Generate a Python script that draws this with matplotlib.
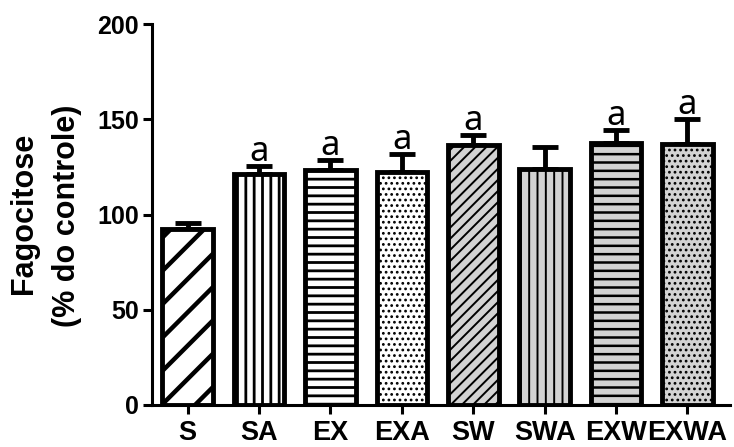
import numpy as np
import matplotlib
matplotlib.use("Agg")
import matplotlib.pyplot as plt

plt.rcParams['font.family'] = ['Liberation Sans', 'DejaVu Sans']
plt.rcParams['font.weight'] = 'bold'

# grupos e valores (% do controle)
grupos = ['S', 'SA', 'EX', 'EXA', 'SW', 'SWA', 'EXW', 'EXWA']
medias = [92.4, 121.3, 123.4, 122.3, 136.5, 124.0, 137.5, 137.0]
erros = [3.0, 4.2, 5.2, 9.5, 5.2, 11.4, 6.9, 13.1]
letras = ['', 'a', 'a', 'a', 'a', '', 'a', 'a']

cores = ['white'] * 4 + ['#d3d3d3'] * 4
hachuras = ['/', '||', '--', '...', '///', '||', '--', '...']
larg_hachura = [3.2, 2.0, 2.0, 1.2, 1.4, 1.4, 1.8, 1.2]

fig = plt.figure(figsize=(7.34, 4.47), dpi=100)
ax = fig.add_axes([0.207, 0.094, 0.788, 0.852])

x = np.arange(len(grupos))
for i in range(len(grupos)):
    plt.rcParams['hatch.linewidth'] = larg_hachura[i]
    b = ax.bar(x[i], medias[i], width=0.71, color=cores[i], edgecolor='black',
               linewidth=3.5, hatch=hachuras[i], zorder=2)
    if hasattr(b[0], 'set_hatch_linewidth'):
        b[0].set_hatch_linewidth(larg_hachura[i])

# barras de erro só para cima
ax.errorbar(x, medias, yerr=[np.zeros(len(erros)), erros], fmt='none',
            ecolor='black', elinewidth=3.5, capsize=9.5, capthick=3.5, zorder=1)

for i, l in enumerate(letras):
    if l:
        ax.text(x[i], medias[i] + erros[i] + 2.8, l, ha='center', va='baseline',
                fontsize=25, fontweight='normal', family=['Noto Sans', 'DejaVu Sans'])

ax.set_xlim(-0.5, 7.6)
ax.set_ylim(0, 200)
ax.set_yticks([0, 50, 100, 150, 200])
ax.set_xticks(x)
ax.set_xticklabels(grupos, fontsize=19.5, fontweight='bold')
for t in ax.get_yticklabels():
    t.set_fontsize(18)
    t.set_fontweight('bold')

ax.spines['top'].set_visible(False)
ax.spines['right'].set_visible(False)
ax.spines['left'].set_linewidth(2.2)
ax.spines['bottom'].set_linewidth(2.2)
ax.tick_params(axis='both', width=2.2, length=6.5)
ax.tick_params(axis='y', pad=3)
ax.tick_params(axis='x', pad=4)

# rótulo do eixo y em duas linhas
fig.text(32 / 734, 1 - 213 / 447, 'Fagocitose', rotation=90,
         rotation_mode='anchor', ha='center', va='baseline',
         fontsize=22, fontweight='bold')
fig.text(75 / 734, 1 - 216 / 447, '(% do controle)', rotation=90,
         rotation_mode='anchor', ha='center', va='baseline',
         fontsize=22, fontweight='bold')

fig.savefig('out.png', dpi=100)
